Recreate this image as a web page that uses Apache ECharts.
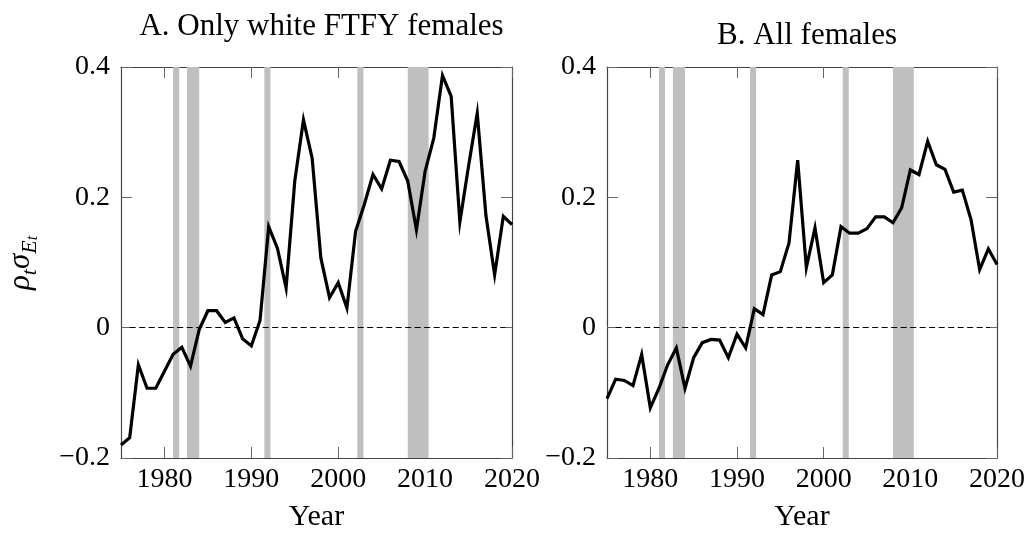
<!DOCTYPE html>
<html>
<head>
<meta charset="utf-8">
<script src="https://cdn.jsdelivr.net/npm/echarts@6/dist/echarts.min.js"></script>
<style>
  html, body { margin: 0; padding: 0; background: #fff; }
  #chart { width: 1029px; height: 534px; }
</style>
</head>
<body>
<div id="chart"></div>
<script>
const years = [];
for (let y = 1975; y <= 2020; y++) years.push(y);

// panel A: only white FTFY females
const whiteFtfy = [
  -0.180, -0.169, -0.057, -0.093, -0.093, -0.067, -0.041, -0.030, -0.059, -0.003,
  0.026, 0.026, 0.008, 0.015, -0.017, -0.028, 0.011, 0.155, 0.122, 0.061,
  0.225, 0.319, 0.260, 0.107, 0.046, 0.069, 0.030, 0.148, 0.189, 0.235,
  0.213, 0.257, 0.255, 0.225, 0.150, 0.240, 0.291, 0.387, 0.355, 0.162,
  0.248, 0.329, 0.172, 0.081, 0.171, 0.158
];

// panel B: all females
const allFemales = [
  -0.109, -0.079, -0.081, -0.089, -0.041, -0.123, -0.093, -0.057, -0.031, -0.093,
  -0.046, -0.023, -0.018, -0.019, -0.046, -0.010, -0.031, 0.029, 0.020, 0.081,
  0.086, 0.130, 0.257, 0.092, 0.153, 0.069, 0.081, 0.155, 0.145, 0.145,
  0.152, 0.170, 0.170, 0.161, 0.184, 0.242, 0.235, 0.286, 0.250, 0.243,
  0.208, 0.211, 0.166, 0.089, 0.121, 0.097
];

// recession bands (shaded)
const recessions = [
  [1981.0, 1981.7], [1982.6, 1984.0], [1991.5, 1992.2], [2002.2, 2002.9], [2008.0, 2010.4]
];

const xTicks = [1980, 1990, 2000, 2010, 2020];
const titles = ['A. Only white FTFY females', 'B. All females'];

const serif = 'Liberation Serif';
const frameColor = '#444';

const chart = echarts.init(document.getElementById('chart'));

const grids = [
  { left: 121, top: 67, width: 391, height: 391, outerBoundsMode: 'none' },
  { left: 607, top: 67, width: 390, height: 391, outerBoundsMode: 'none' }
];

function fmtY(v) {
  if (Math.abs(v) < 1e-9) return '0';
  return v.toFixed(1).replace('-', '\u2212');
}

const xAxis = [];
const yAxis = [];
const series = [];
const panels = [whiteFtfy, allFemales];

panels.forEach((vals, i) => {
  xAxis.push({
    type: 'value', gridIndex: i, min: 1975, max: 2020, position: 'bottom',
    name: 'Year', nameLocation: 'middle', nameGap: 44,
    nameTextStyle: { fontFamily: serif, fontSize: 30, color: '#000' },
    axisLine: { onZero: false, lineStyle: { color: frameColor, width: 1.2 } },
    axisTick: { inside: true, length: 11, customValues: xTicks, lineStyle: { color: '#666' } },
    axisLabel: { customValues: xTicks, margin: 8, fontFamily: serif, fontSize: 28, color: '#000',
      formatter: v => String(v) },
    splitLine: { show: false }
  });
  xAxis.push({
    type: 'value', gridIndex: i, min: 1975, max: 2020, position: 'top',
    axisLine: { onZero: false, lineStyle: { color: frameColor, width: 1.2 } },
    axisTick: { inside: true, length: 11, customValues: xTicks, lineStyle: { color: '#666' } },
    axisLabel: { show: false },
    splitLine: { show: false }
  });
  yAxis.push({
    type: 'value', gridIndex: i, min: -0.2, max: 0.4, interval: 0.2, position: 'left',
    axisLine: { show: true, onZero: false, lineStyle: { color: frameColor, width: 1.2 } },
    axisTick: { show: true, inside: true, length: 11, lineStyle: { color: '#666' } },
    axisLabel: { margin: 11, fontFamily: serif, fontSize: 28, color: '#000', formatter: fmtY },
    splitLine: { show: false }
  });
  yAxis.push({
    type: 'value', gridIndex: i, min: -0.2, max: 0.4, interval: 0.2, position: 'right',
    axisLine: { show: true, onZero: false, lineStyle: { color: frameColor, width: 1.2 } },
    axisTick: { show: true, inside: true, length: 11, lineStyle: { color: '#666' } },
    axisLabel: { show: false },
    splitLine: { show: false }
  });

  series.push({
    type: 'line',
    xAxisIndex: i * 2, yAxisIndex: i * 2,
    data: years.map((y, k) => [y, vals[k]]),
    showSymbol: false,
    lineStyle: { color: '#000', width: 3.2, join: 'miter' },
    z: 5,
    markArea: {
      silent: true,
      itemStyle: { color: '#bfbfbf', opacity: 1 },
      data: recessions.map(r => [{ xAxis: r[0] }, { xAxis: r[1] }])
    },
    markLine: {
      silent: true,
      symbol: 'none',
      label: { show: false },
      lineStyle: { color: '#000', width: 1, type: [6, 3.5] },
      data: [[{ coord: [1976, 0] }, { coord: [2019.2, 0] }]]
    }
  });
});

chart.setOption({
  animation: false,
  grid: grids,
  xAxis,
  yAxis,
  series,
  title: [
    { text: titles[0], left: 316.5, top: 6, textAlign: 'center',
      textStyle: { fontFamily: serif, fontSize: 31, fontWeight: 'normal', color: '#000' } },
    { text: titles[1], left: 802, top: 15, textAlign: 'center',
      textStyle: { fontFamily: serif, fontSize: 31, fontWeight: 'normal', color: '#000' } }
  ],
  graphic: [{
    type: 'text',
    x: 21, y: 263,
    rotation: Math.PI / 2,
    style: {
      text: '{m|\u03c1}{s|t}{m|\u03c3}{e|E}{f|t}',
      align: 'center',
      verticalAlign: 'middle',
      fill: '#000',
      rich: {
        m: { fontFamily: serif, fontStyle: 'italic', fontSize: 31, lineHeight: 40, verticalAlign: 'middle' },
        s: { fontFamily: serif, fontStyle: 'italic', fontSize: 22, lineHeight: 23, verticalAlign: 'bottom' },
        e: { fontFamily: serif, fontStyle: 'italic', fontSize: 22, lineHeight: 23, verticalAlign: 'bottom' },
        f: { fontFamily: serif, fontStyle: 'italic', fontSize: 16, lineHeight: 11, verticalAlign: 'bottom' }
      }
    }
  }]
});
</script>
</body>
</html>
